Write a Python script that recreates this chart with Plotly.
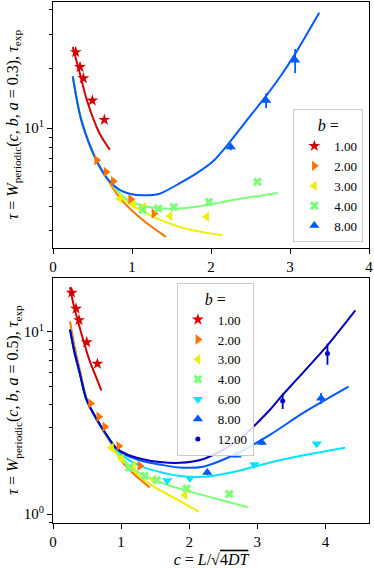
import plotly.graph_objects as go

FONT = "Liberation Serif"

# ---- top panel (a = 0.3): measured points ----
T_B1_C = [0.287, 0.342, 0.384, 0.498, 0.650]
T_B1_TAU = [24.3, 20.4, 17.9, 13.8, 11.0]
T_B2_C = [0.553, 0.671, 0.763, 0.983, 1.278]
T_B2_TAU = [6.86, 5.98, 5.37, 4.35, 3.68]
T_B3_C = [0.846, 1.015, 1.150, 1.480, 1.945]
T_B3_TAU = [4.38, 4.10, 3.97, 3.57, 3.54]
T_B4_C = [1.134, 1.332, 1.530, 1.975, 2.587]
T_B4_TAU = [3.85, 3.90, 3.97, 4.21, 5.33]
T_B8_C = [2.250, 2.698, 3.065]
T_B8_TAU = [8.01, 13.8, 22.1]
T_B8_ERR = [0.3, 1.2, 3.1]

# ---- top panel: W_periodic curves ----
TC_B1_C = [0.25, 0.34, 0.43, 0.59, 0.72]
TC_B1_W = [25.8, 18.9, 13.8, 9.37, 7.75]
TC_B2_C = [0.25, 0.36, 0.55, 0.70, 0.87, 1.14, 1.43]
TC_B2_W = [18.3, 10.9, 6.8, 5.4, 4.3, 3.4, 2.8]
TC_B3_C = [0.25, 0.36, 0.55, 0.70, 0.93, 1.23, 1.63, 2.14]
TC_B3_W = [18.3, 10.9, 6.8, 5.45, 4.25, 3.61, 3.12, 2.85]
TC_B4_C = [0.25, 0.36, 0.55, 0.70, 0.93, 1.23, 1.60, 1.86, 2.30, 2.85]
TC_B4_W = [18.3, 10.9, 6.8, 5.5, 4.35, 3.96, 3.90, 4.0, 4.32, 4.68]
TC_B8_C = [0.25, 0.36, 0.55, 0.70, 0.85, 0.97, 1.14, 1.35, 1.61, 1.82, 2.03, 2.24, 2.45, 2.70, 2.875, 3.065, 3.37]
TC_B8_W = [18.3, 10.9, 6.86, 5.45, 4.83, 4.64, 4.55, 4.64, 5.26, 5.9, 6.8, 8.5, 10.9, 14.6, 18.2, 23.8, 38.5]

# ---- bottom panel (a = 0.5): measured points ----
B_B1_C = [0.275, 0.338, 0.382, 0.495, 0.652]
B_B1_TAU = [16.4, 13.4, 11.6, 8.77, 6.68]
B_B2_C = [0.550, 0.672, 0.760, 0.966, 1.275]
B_B2_TAU = [4.04, 3.42, 3.01, 2.36, 1.84]
B_B3_C = [0.859, 1.006, 1.180, 1.480, 1.937]
B_B3_TAU = [2.31, 2.01, 1.85, 1.55, 1.27]
B_B4_C = [1.118, 1.349, 1.520, 1.962, 2.588]
B_B4_TAU = [1.80, 1.62, 1.54, 1.38, 1.29]
B_B6_C = [1.677, 2.010, 2.956, 3.873]
B_B6_TAU = [1.53, 1.57, 1.87, 2.43]
B_B8_C = [2.265, 2.697, 3.065, 3.937]
B_B8_TAU = [1.69, 2.10, 2.47, 4.32]
B_B8_ERR = [0.05, 0.05, 0.08, 0.3]
B_B12_C = [3.373, 4.030]
B_B12_TAU = [4.17, 7.60]
B_B12_ERR = [0.4, 1.0]

# ---- bottom panel: W_periodic curves ----
BC_B1_C = [0.25, 0.30, 0.40, 0.54, 0.62, 0.71]
BC_B1_W = [17.6, 14.2, 10.3, 6.9, 5.8, 4.77]
BC_B2_C = [0.25, 0.32, 0.39, 0.49, 0.64, 0.81, 1.0, 1.18, 1.42]
BC_B2_W = [11.4, 8.2, 6.3, 4.35, 3.3, 2.58, 1.97, 1.67, 1.40]
BC_B3_C = [0.25, 0.32, 0.39, 0.49, 0.64, 0.81, 0.93, 1.13, 1.42, 1.86, 2.14]
BC_B3_W = [10.4, 7.6, 6.0, 4.26, 3.3, 2.6, 2.15, 1.80, 1.46, 1.18, 1.03]
BC_B4_C = [0.25, 0.32, 0.39, 0.49, 0.64, 0.81, 0.93, 1.18, 1.42, 1.72, 2.20, 2.86]
BC_B4_W = [10.3, 7.6, 6.0, 4.26, 3.31, 2.62, 2.22, 1.76, 1.58, 1.43, 1.27, 1.09]
BC_B6_C = [0.25, 0.32, 0.39, 0.49, 0.64, 0.81, 0.93, 1.08, 1.28, 1.52, 1.86, 2.20, 2.70, 3.19, 3.68, 4.29]
BC_B6_W = [10.3, 7.6, 6.0, 4.26, 3.31, 2.63, 2.27, 2.02, 1.84, 1.72, 1.62, 1.60, 1.72, 1.92, 2.10, 2.31]
BC_B8_C = [0.25, 0.32, 0.39, 0.49, 0.64, 0.81, 0.93, 1.08, 1.32, 1.57, 1.86, 2.20, 2.70, 3.19, 3.68, 4.34]
BC_B8_W = [10.3, 7.6, 6.0, 4.26, 3.31, 2.63, 2.28, 2.10, 1.95, 1.87, 1.80, 1.82, 2.15, 2.73, 3.60, 5.0]
BC_B12_C = [0.25, 0.32, 0.39, 0.49, 0.64, 0.81, 0.93, 1.08, 1.32, 1.57, 1.86, 2.20, 2.70, 3.19, 3.37, 3.58, 4.02, 4.44]
BC_B12_W = [10.3, 7.6, 6.0, 4.27, 3.32, 2.64, 2.30, 2.13, 2.0, 1.93, 1.91, 2.0, 2.51, 3.75, 4.5, 5.48, 8.34, 13.1]

B_LABELS = {1: "1.00", 2: "2.00", 3: "3.00", 4: "4.00", 6: "6.00", 8: "8.00", 12: "12.00"}

# jet-like colours per b, and matplotlib-like marker shapes
COLORS = {1: "#d40000", 2: "#ff7200", 3: "#eeee00", 4: "#7dff7a", 6: "#00e4f8", 8: "#0058ff", 12: "#0000c0"}
SYMBOLS = {1: "star", 2: "triangle-right", 3: "triangle-left", 4: "x", 6: "triangle-down", 8: "triangle-up", 12: "circle"}
SIZES = {1: 9, 2: 9, 3: 9, 4: 8, 6: 9, 8: 9, 12: 5}

fig = go.Figure()


def add_curve(c, w, b, xa, ya):
    fig.add_trace(go.Scatter(
        x=c, y=w, mode="lines", xaxis=xa, yaxis=ya,
        line=dict(color=COLORS[b], width=2, shape="spline", smoothing=0.8),
        showlegend=False, hoverinfo="skip",
    ))


def add_points(c, tau, b, xa, ya, legend, err=None):
    error_y = dict(visible=False)
    if err is not None:
        error_y = dict(type="data", array=err, visible=True, color=COLORS[b], thickness=1.8, width=0)
    fig.add_trace(go.Scatter(
        x=c, y=tau, mode="markers", xaxis=xa, yaxis=ya,
        marker=dict(symbol=SYMBOLS[b], size=SIZES[b], color=COLORS[b], line=dict(width=0)),
        error_y=error_y, name=B_LABELS[b], legend=legend,
    ))


# top panel
for c, w, b in [(TC_B1_C, TC_B1_W, 1), (TC_B2_C, TC_B2_W, 2), (TC_B3_C, TC_B3_W, 3),
                (TC_B4_C, TC_B4_W, 4), (TC_B8_C, TC_B8_W, 8)]:
    add_curve(c, w, b, "x", "y")
add_points(T_B1_C, T_B1_TAU, 1, "x", "y", "legend")
add_points(T_B2_C, T_B2_TAU, 2, "x", "y", "legend")
add_points(T_B3_C, T_B3_TAU, 3, "x", "y", "legend")
add_points(T_B4_C, T_B4_TAU, 4, "x", "y", "legend")
add_points(T_B8_C, T_B8_TAU, 8, "x", "y", "legend", err=T_B8_ERR)

# bottom panel
for c, w, b in [(BC_B1_C, BC_B1_W, 1), (BC_B2_C, BC_B2_W, 2), (BC_B3_C, BC_B3_W, 3),
                (BC_B4_C, BC_B4_W, 4), (BC_B6_C, BC_B6_W, 6), (BC_B8_C, BC_B8_W, 8),
                (BC_B12_C, BC_B12_W, 12)]:
    add_curve(c, w, b, "x2", "y2")
add_points(B_B1_C, B_B1_TAU, 1, "x2", "y2", "legend2")
add_points(B_B2_C, B_B2_TAU, 2, "x2", "y2", "legend2")
add_points(B_B3_C, B_B3_TAU, 3, "x2", "y2", "legend2")
add_points(B_B4_C, B_B4_TAU, 4, "x2", "y2", "legend2")
add_points(B_B6_C, B_B6_TAU, 6, "x2", "y2", "legend2")
add_points(B_B8_C, B_B8_TAU, 8, "x2", "y2", "legend2", err=B_B8_ERR)
add_points(B_B12_C, B_B12_TAU, 12, "x2", "y2", "legend2", err=B_B12_ERR)

axis_style = dict(
    showline=True, mirror=True, linecolor="black", linewidth=1,
    ticks="outside", ticklen=5, tickwidth=1, tickcolor="black",
    showgrid=False, zeroline=False,
    tickfont=dict(family=FONT, size=15, color="black"),
)
legend_style = dict(
    xref="paper", yref="paper",
    bgcolor="rgba(255,255,255,0.85)", bordercolor="#cccccc", borderwidth=1,
    font=dict(family=FONT, size=13, color="black"),
    title=dict(text="<i>b</i> =", side="top center", font=dict(family=FONT, size=16)),
    itemwidth=30,
)

fig.update_layout(
    width=374, height=568,
    margin=dict(l=53, r=5, t=2, b=45),
    paper_bgcolor="white", plot_bgcolor="white",
    font=dict(family=FONT, size=15, color="black"),
    showlegend=True,
    xaxis=dict(domain=[0, 1], anchor="y", range=[0, 4], tickvals=[0, 1, 2, 3, 4], **axis_style),
    yaxis=dict(
        domain=[0.528, 1], anchor="x", type="log", range=[0.391, 1.64],
        tickvals=[10], ticktext=["10<sup>1</sup>"],
        minor=dict(tickvals=[3, 4, 5, 6, 7, 8, 9, 20, 30, 40], ticks="outside", ticklen=3, tickcolor="black"),
        **axis_style,
    ),
    xaxis2=dict(
        domain=[0, 1], anchor="y2", range=[0, 4.64], tickvals=[0, 1, 2, 3, 4],
        title=dict(
            text="<i>c</i> = <i>L</i>/√<span style='text-decoration:overline'>4<i>DT</i></span>",
            font=dict(family=FONT, size=16), standoff=4,
        ),
        **axis_style,
    ),
    yaxis2=dict(
        domain=[0, 0.471], anchor="x2", type="log", range=[-0.049, 1.2975],
        tickvals=[1, 10], ticktext=["10<sup>0</sup>", "10<sup>1</sup>"],
        minor=dict(tickvals=[0.9, 2, 3, 4, 5, 6, 7, 8, 9], ticks="outside", ticklen=3, tickcolor="black"),
        **axis_style,
    ),
    legend=dict(x=0.982, y=0.539, xanchor="right", yanchor="bottom", **legend_style),
    legend2=dict(x=0.392, y=0.461, xanchor="left", yanchor="top", **legend_style),
)

for a_val, y_mid in [("0.3", 0.764), ("0.5", 0.2355)]:
    fig.add_annotation(
        text=("<i>τ</i> = <i>W</i><sub>periodic</sub>(<i>c</i>, <i>b</i>, <i>a</i> = " + a_val
              + "), <i>τ</i><sub>exp</sub>"),
        xref="paper", yref="paper", x=-0.125, y=y_mid, textangle=-90,
        xanchor="center", yanchor="middle", showarrow=False,
        font=dict(family=FONT, size=16, color="black"),
    )

# drop the default page margin so the 374x568 figure fits the window exactly
fig.write_html(
    "out.html",
    config={"displayModeBar": False},
    post_script="document.body.style.margin='0';",
)
